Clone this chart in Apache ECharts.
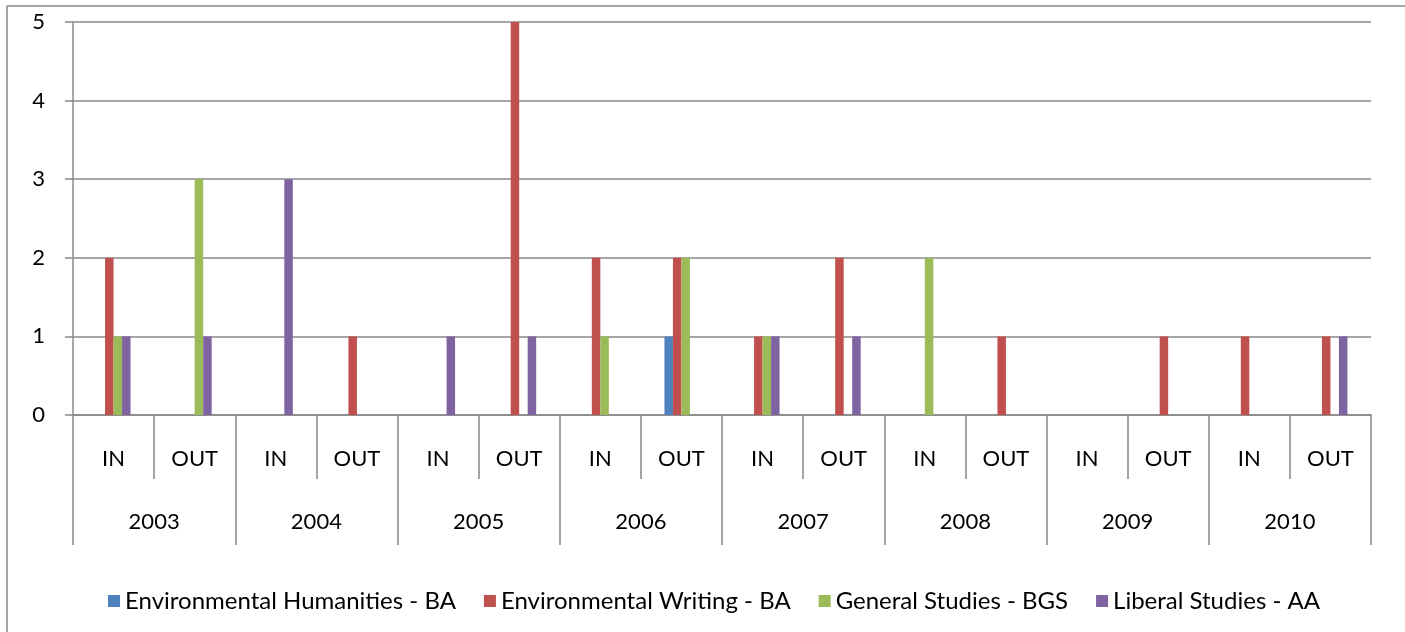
<!DOCTYPE html>
<html>
<head>
    <meta charset="utf-8">
    <script src="https://cdn.jsdelivr.net/npm/echarts@6/dist/echarts.min.js"></script>
    <style>
        html, body { margin: 0; padding: 0; background: #fff; }
    </style>
</head>
<body>
    <div id="chart" style="width: 1405px;height:632px;"></div>
    <script type="text/javascript">
        // data
        var categories = ['IN', 'OUT', 'IN', 'OUT', 'IN', 'OUT', 'IN', 'OUT',
                          'IN', 'OUT', 'IN', 'OUT', 'IN', 'OUT', 'IN', 'OUT'];
        var years = ['2003', '2004', '2005', '2006', '2007', '2008', '2009', '2010'];
        var envHumanities = [0, 0, 0, 0, 0, 0, 0, 1, 0, 0, 0, 0, 0, 0, 0, 0];
        var envWriting    = [2, 0, 0, 1, 0, 5, 2, 2, 1, 2, 0, 1, 0, 1, 1, 1];
        var genStudies    = [1, 3, 0, 0, 0, 0, 1, 2, 1, 0, 2, 0, 0, 0, 0, 0];
        var libStudies    = [1, 1, 3, 0, 1, 1, 0, 0, 1, 1, 0, 0, 0, 0, 0, 1];
        var seriesNames = ['Environmental Humanities - BA', 'Environmental Writing - BA',
                           'General Studies - BGS', 'Liberal Studies - AA'];
        var colors = ['#4F81BD', '#C0504D', '#9BBB59', '#8064A2'];

        var font = 'Lato';
        var fs = 22;
        var grey = '#888888';

        var myChart = echarts.init(document.getElementById('chart'));

        var ser = [];
        var vals = [envHumanities, envWriting, genStudies, libStudies];
        for (var i = 0; i < vals.length; i++) {
            ser.push({
                name: seriesNames[i],
                type: 'bar',
                xAxisIndex: 0,
                data: vals[i],
                barWidth: 8.5,
                barGap: '0%',
                itemStyle: { color: colors[i] }
            });
        }

        var option = {
            animation: false,
            color: colors,
            textStyle: { fontFamily: font },
            grid: { left: 73, right: 34, top: 22, bottom: 217 },
            legend: {
                left: 103,
                top: 584,
                itemWidth: 12,
                itemHeight: 12,
                itemGap: 28,
                icon: 'rect',
                textStyle: { fontFamily: font, fontSize: 24, color: '#000' },
                data: seriesNames
            },
            xAxis: [
                {
                    type: 'category',
                    data: categories,
                    position: 'bottom',
                    axisLine: { lineStyle: { color: grey, width: 1.5 } },
                    axisTick: { show: true, interval: 0, length: 64, lineStyle: { color: grey, width: 1.5 } },
                    axisLabel: { interval: 0, margin: 33, fontSize: fs, color: '#000', fontFamily: font },
                    splitLine: { show: false }
                },
                {
                    type: 'category',
                    data: years,
                    position: 'bottom',
                    axisLine: { show: false },
                    axisTick: { show: true, interval: 0, length: 130, lineStyle: { color: grey, width: 1.5 } },
                    axisLabel: { interval: 0, margin: 96, fontSize: fs, color: '#000', fontFamily: font },
                    splitLine: { show: false }
                }
            ],
            yAxis: {
                type: 'value',
                min: 0,
                max: 5,
                interval: 1,
                axisLine: { show: true, lineStyle: { color: grey, width: 1.5 } },
                axisTick: { show: true, length: 8, lineStyle: { color: grey, width: 1.5 } },
                axisLabel: { margin: 28, fontSize: fs, color: '#000', fontFamily: font },
                splitLine: { show: true, lineStyle: { color: grey, width: 1.5 } }
            },
            graphic: [
                { type: 'line', shape: { x1: 7, y1: 6, x2: 1405, y2: 6 }, style: { stroke: grey, lineWidth: 1.5 } },
                { type: 'line', shape: { x1: 7, y1: 6, x2: 7, y2: 632 }, style: { stroke: grey, lineWidth: 1.5 } }
            ],
            series: ser
        };
        myChart.setOption(option);
    </script>
</body>
</html>
